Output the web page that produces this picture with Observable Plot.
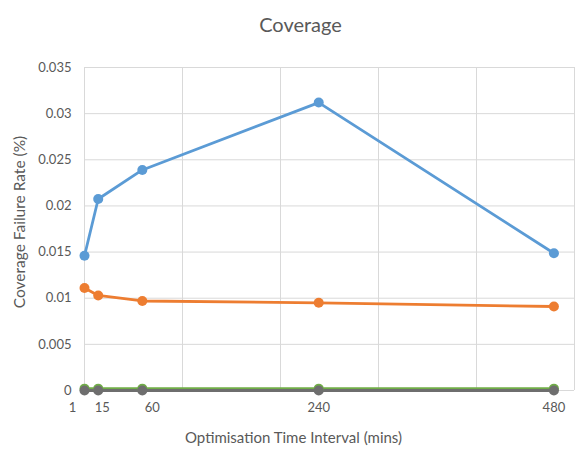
<!DOCTYPE html>
<html>
<head>
<meta charset="utf-8">
<script src="https://cdn.jsdelivr.net/npm/d3@7"></script>
<script src="https://cdn.jsdelivr.net/npm/@observablehq/plot@0.6"></script>
<style>
  html, body { margin: 0; padding: 0; background: #fff; }
  #chart svg { display: block; }
</style>
</head>
<body>
<div id="chart"></div>
<script>
const title = "Coverage";
const xLabel = "Optimisation Time Interval (mins)";
const yLabel = "Coverage Failure Rate (%)";

const intervals = [1, 15, 60, 240, 480];
const seriesNames = ["Series1", "Series2", "Series3", "Series4"];
const series1 = [0.0146, 0.02075, 0.0239, 0.0312, 0.01487];
const series2 = [0.0111, 0.0103, 0.0097, 0.0095, 0.0091];
const series3 = [0.0002, 0.0002, 0.0002, 0.0002, 0.0002];
const series4 = [0.0000, 0.0000, 0.0000, 0.0000, 0.0000];
const seriesColors = ["#5B9BD5", "#ED7D31", "#70AD47", "#6E6E6E"];

const yTicks = [0, 0.005, 0.01, 0.015, 0.02, 0.025, 0.03, 0.035];
const xGridValues = [1, 101, 201, 301, 401, 501];

const allSeries = [series1, series2, series3, series4];
const data = [];
allSeries.forEach((vals, si) => {
  vals.forEach((v, i) => data.push({series: seriesNames[si], x: intervals[i], y: v}));
});

const font = "Lato, 'Open Sans', sans-serif";
const textColor = "#595959";
const tickFont = 13;

const chart = Plot.plot({
  width: 581,
  height: 457,
  marginLeft: 84,
  marginRight: 7,
  marginTop: 67,
  marginBottom: 67,
  style: {fontFamily: font, fontSize: "13px", color: textColor, background: "#fff"},
  x: {domain: [1, 501], axis: null},
  y: {domain: [0, 0.035], axis: null},
  color: {domain: seriesNames, range: seriesColors},
  marks: [
    Plot.gridY(yTicks, {stroke: "#d9d9d9", strokeOpacity: 1, strokeWidth: 1}),
    Plot.gridX(xGridValues, {stroke: "#d9d9d9", strokeOpacity: 1, strokeWidth: 1}),
    Plot.axisY(yTicks, {tickSize: 0, tickPadding: 13, tickFormat: d => String(d), label: null, fill: textColor, fontSize: tickFont}),
    Plot.axisX([intervals[0]], {tickSize: 0, tickPadding: 12, dx: -12, label: null, fill: textColor, fontSize: tickFont}),
    Plot.axisX([intervals[1]], {tickSize: 0, tickPadding: 12, dx: 4, label: null, fill: textColor, fontSize: tickFont}),
    Plot.axisX([intervals[2]], {tickSize: 0, tickPadding: 12, dx: 10, label: null, fill: textColor, fontSize: tickFont}),
    Plot.axisX(intervals.slice(3), {tickSize: 0, tickPadding: 12, label: null, fill: textColor, fontSize: tickFont}),
    Plot.line(data, {x: "x", y: "y", z: "series", stroke: "series", strokeWidth: 2.8}),
    Plot.dot(data, {x: "x", y: "y", fill: "series", r: 5, stroke: null}),
    Plot.text([title], {frameAnchor: "top", dy: -50, dx: -29, fontSize: 20, fill: textColor}),
    Plot.text([xLabel], {frameAnchor: "bottom", dy: 52, dx: -36, fontSize: 15, fill: textColor}),
    Plot.text([yLabel], {frameAnchor: "left", dx: -64, dy: -7, rotate: -90, textAnchor: "middle", fontSize: 15.5, fill: textColor})
  ]
});
document.getElementById("chart").appendChild(chart);
</script>
</body>
</html>
